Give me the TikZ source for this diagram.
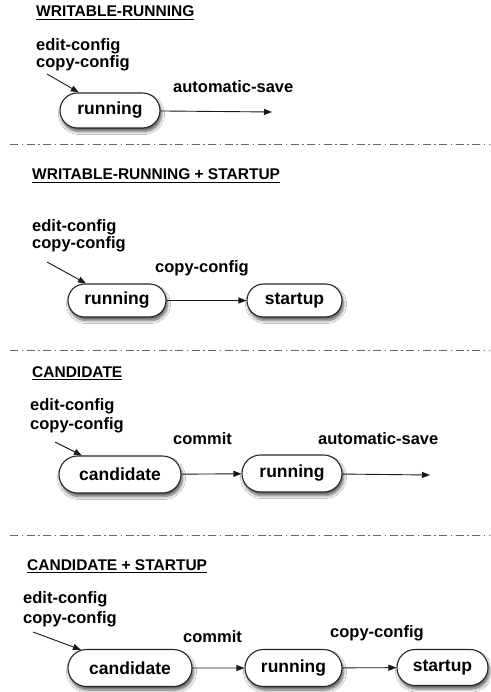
\documentclass[tikz,border=0pt]{standalone}
\usepackage{fontspec}
\setmainfont{Liberation Sans}
\usetikzlibrary{arrows.meta,shapes.misc,shadows.blur}
\newcommand\myul[1]{\setbox0\hbox{#1}\rlap{\rule[-2.8pt]{\wd0}{1.1pt}}\box0}
\begin{document}
\begin{tikzpicture}[x=1pt,y=-1pt,
 title/.style={anchor=base west,inner sep=0,font=\fontsize{15.5}{18}\selectfont\bfseries},
 lbl/.style={anchor=base west,inner sep=0,font=\fontsize{16.5}{19}\selectfont\bfseries},
 state/.style={rounded rectangle, draw=black!85, line width=1.1pt, fill=white, inner sep=0,
   font=\fontsize{17.5}{20}\selectfont\bfseries,
   blur shadow={shadow xshift=1.5pt,shadow yshift=-3.5pt,shadow blur steps=6,shadow opacity=65,shadow blur radius=3pt}},
 arr/.style={-{Triangle[length=8pt,width=6pt]}, line width=0.9pt, draw=black!90},
 sep/.style={black!60, line width=1pt, dash pattern=on 8pt off 3.5pt on 1.5pt off 3.5pt}]
\useasboundingbox (0,0) rectangle (490,692);
\fill[white] (0,0) rectangle (490,692);

% Section 1
\node[title] (t1) at (36,17) {\myul{WRITABLE-RUNNING}};
\node[lbl] (e1) at (36,51) {edit-config};
\node[lbl] (c1) at (36,68) {copy-config};
\node[state, minimum width=100pt, minimum height=35pt] (r1) at (110,110.5) {running};
\coordinate (s1) at (47,74);
\draw[arr] (s1) -- (r1);
\coordinate (z1) at (272,112);
\draw[arr] (r1) -- (z1);
\node[lbl] (a1) at (173,93) {automatic-save};
\coordinate (d1a) at (10,145); \coordinate (d1b) at (490,145);
\draw[sep] (d1a) -- (d1b);

% Section 2
\node[title] (t2) at (32,180) {\myul{WRITABLE-RUNNING + STARTUP}};
\node[lbl] (e2) at (32,232) {edit-config};
\node[lbl] (c2) at (32,248) {copy-config};
\node[state, minimum width=98pt, minimum height=33pt] (r2) at (117,300.5) {running};
\node[state, minimum width=95pt, minimum height=33pt] (st2) at (294.5,300.5) {startup};
\coordinate (s2) at (47,262);
\draw[arr] (s2) -- (r2);
\draw[arr] (r2) -- (st2);
\node[lbl] (cc2) at (155,272) {copy-config};
\coordinate (d2a) at (10,350); \coordinate (d2b) at (490,350);
\draw[sep] (d2a) -- (d2b);

% Section 3
\node[title] (t3) at (32,377) {\myul{CANDIDATE}};
\node[lbl] (e3) at (30,410) {edit-config};
\node[lbl] (c3) at (30,429) {copy-config};
\node[state, minimum width=122pt, minimum height=37pt] (ca3) at (120,474.5) {candidate};
\node[state, minimum width=100pt, minimum height=37pt] (r3) at (292,473.5) {running};
\coordinate (s3) at (55,442);
\draw[arr] (s3) -- (ca3);
\draw[arr] (ca3) -- (r3);
\coordinate (z3) at (430,475);
\draw[arr] (r3) -- (z3);
\node[lbl] (cm3) at (173,444) {commit};
\node[lbl] (a3) at (318,444) {automatic-save};
\coordinate (d3a) at (10,535); \coordinate (d3b) at (490,535);
\draw[sep] (d3a) -- (d3b);

% Section 4
\node[title] (t4) at (27,570) {\myul{CANDIDATE + STARTUP}};
\node[lbl] (e4) at (23,603) {edit-config};
\node[lbl] (c4) at (23,623) {copy-config};
\node[state, minimum width=124pt, minimum height=37pt] (ca4) at (130,668) {candidate};
\node[state, minimum width=97pt, minimum height=37pt] (r4) at (293.5,668) {running};
\node[state, minimum width=91pt, minimum height=36pt] (st4) at (442.5,667.5) {startup};
\coordinate (s4) at (33,632);
\draw[arr] (s4) -- (ca4);
\draw[arr] (ca4) -- (r4);
\draw[arr] (r4) -- (st4);
\node[lbl] (cm4) at (183,642) {commit};
\node[lbl] (cc4) at (330,637) {copy-config};
\end{tikzpicture}
\end{document}
